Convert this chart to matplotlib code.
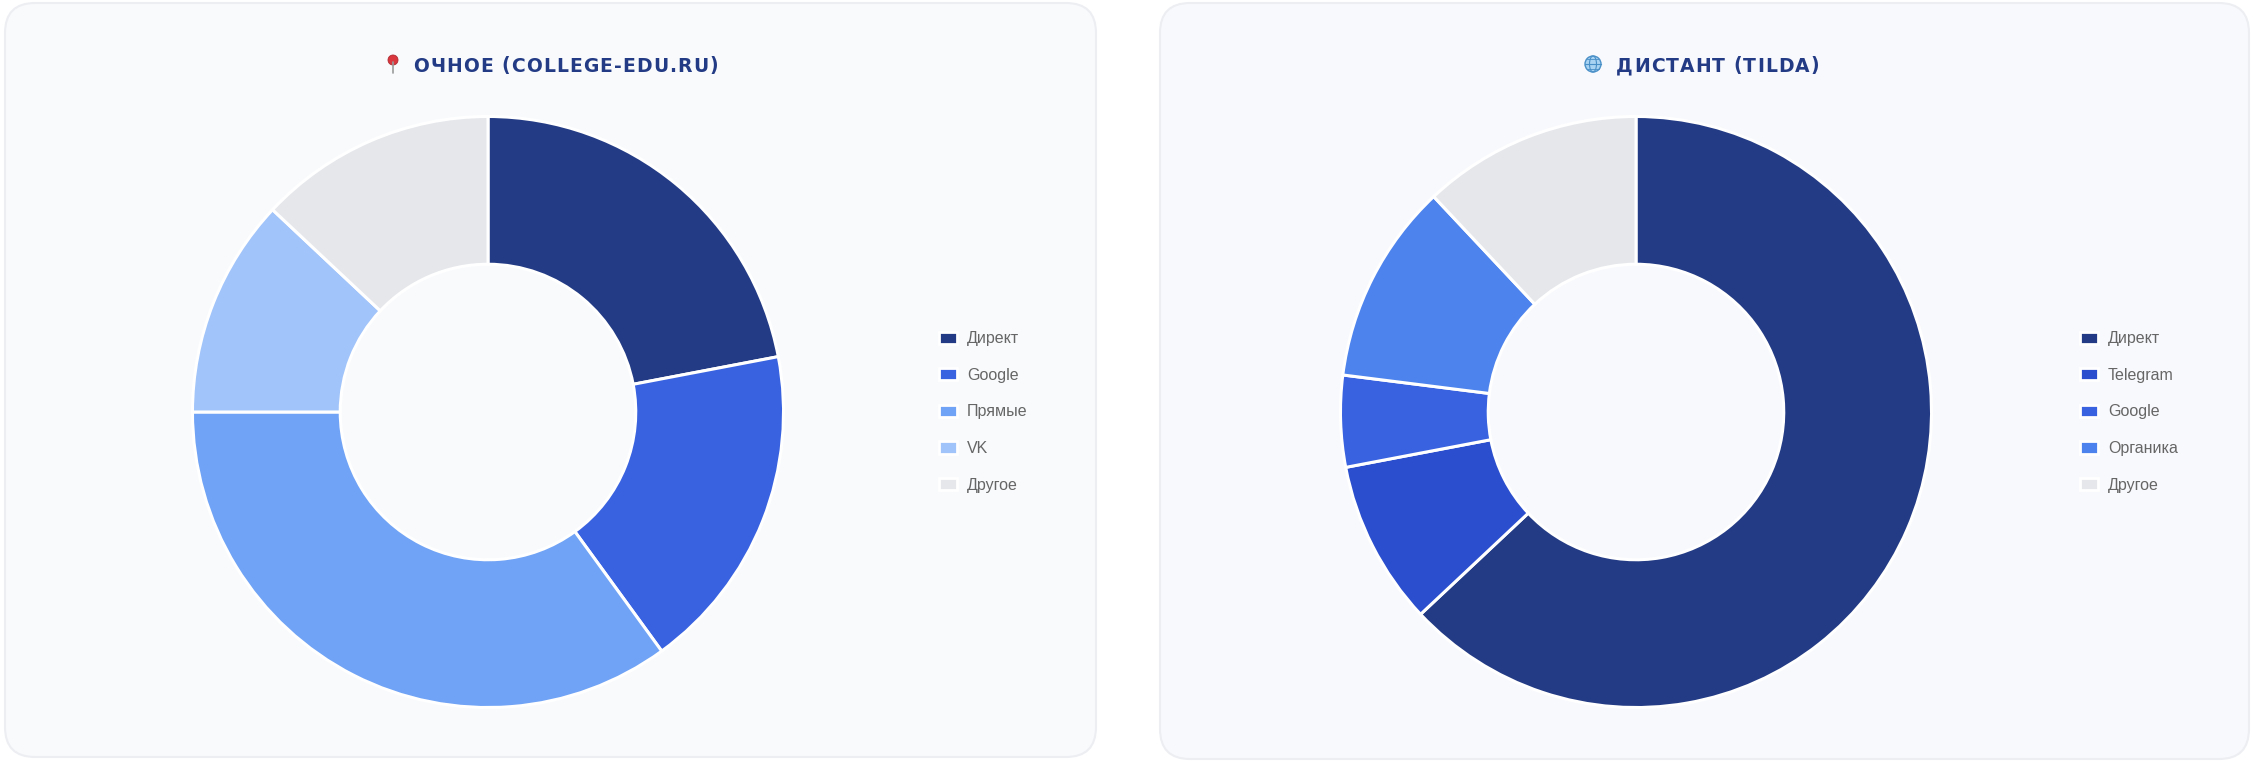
import matplotlib.pyplot as plt
from matplotlib.patches import FancyBboxPatch, Rectangle, Circle, Ellipse

# очное
ochno_labels = ['Директ', 'Google', 'Прямые', 'VK', 'Другое']
ochno_values = [22, 18, 35, 12, 13]
ochno_colors = ['#233b85', '#3862e0', '#70a3f5', '#a1c4fa', '#e5e7eb']

# дистант
dist_labels = ['Директ', 'Telegram', 'Google', 'Органика', 'Другое']
dist_values = [63, 9, 5, 11, 12]
dist_colors = ['#233b85', '#2a4ecd', '#3862e0', '#4d83ed', '#e5e7eb']

W, H = 2254, 770
fig = plt.figure(figsize=(W / 100, H / 100), dpi=100)
fig.patch.set_facecolor('white')


def px_box(x0, y0, x1, y1):
    # pixel box (top-left origin) -> figure fraction rect
    return [x0 / W, 1 - y1 / H, (x1 - x0) / W, (y1 - y0) / H]


bg = fig.add_axes([0, 0, 1, 1])
bg.set_xlim(0, W)
bg.set_ylim(H, 0)
bg.axis('off')
for (x0, x1, y1, fc) in [(5, 1096, 757, '#f8fafc'), (1160, 2249, 759, '#f8f9fd')]:
    bg.add_patch(FancyBboxPatch((x0 + 30, 3 + 30), x1 - x0 - 60, y1 - 3 - 60,
                                boxstyle='round,pad=30', fc=fc, ec='#eceef2', lw=1.5))

renderer = fig.canvas.get_renderer()


def spaced_text(x_left, y, s, spacing, **kw):
    # matplotlib has no letter-spacing, so place chars one by one
    x = x_left
    for ch in s:
        t = bg.text(x, y, ch, ha='left', va='center', **kw)
        w = t.get_window_extent(renderer).width
        if ch == ' ':
            w = t.get_fontsize() * 100 / 72 * 0.32
        x += w + spacing
    return x


titles = ['ОЧНОЕ (COLLEGE-EDU.RU)', 'ДИСТАНТ (TILDA)']
title_left = [413, 1616]
for t, tx in zip(titles, title_left):
    spaced_text(tx, 66, t, 1.15, fontsize=13.5, fontweight='bold',
                color='#233b85', family='DejaVu Sans')

# pin icon
bg.plot([393, 393], [62, 73], color='#9a9a9a', lw=1.2, solid_capstyle='round')
bg.add_patch(Circle((393, 60), 5, fc='#d9363e', ec='#b02a30', lw=0.6))
# globe icon
bg.add_patch(Circle((1593, 64), 8, fc='#a9d3f2', ec='#4a90c8', lw=1.0))
bg.add_patch(Ellipse((1593, 64), 7, 16, fc='none', ec='#4a90c8', lw=0.8))
bg.plot([1585, 1601], [64, 64], color='#4a90c8', lw=0.8)
bg.plot([1587, 1599], [59, 59], color='#4a90c8', lw=0.6)
bg.plot([1587, 1599], [69, 69], color='#4a90c8', lw=0.6)

centers = [488, 1636]
legend_x = [939, 2080]
datasets = [(ochno_labels, ochno_values, ochno_colors),
            (dist_labels, dist_values, dist_colors)]
R = 297
for cx, lx, (labels, vals, cols) in zip(centers, legend_x, datasets):
    ax = fig.add_axes(px_box(cx - R, 412 - R, cx + R, 412 + R))
    wedges, _ = ax.pie(vals, colors=cols, startangle=90, counterclock=False,
                       radius=1, wedgeprops=dict(width=0.5, edgecolor='white', linewidth=2.2))
    ax.set_xlim(-1.005, 1.005)
    ax.set_ylim(-1.005, 1.005)
    ax.set_aspect('equal')
    ax.axis('off')
    handles = [Rectangle((0, 0), 1, 1, fc=c, ec='white', lw=2) for c in cols]
    fig.legend(handles, labels, loc='center left',
               bbox_to_anchor=(lx / W, 1 - 412 / H), frameon=False,
               prop=dict(family='Liberation Sans', size=11.5), labelcolor='#666666',
               handlelength=1.1, handleheight=0.8,
               handletextpad=0.65, labelspacing=1.35, borderpad=0, borderaxespad=0)

fig.savefig('out.png', dpi=100, facecolor='white')
